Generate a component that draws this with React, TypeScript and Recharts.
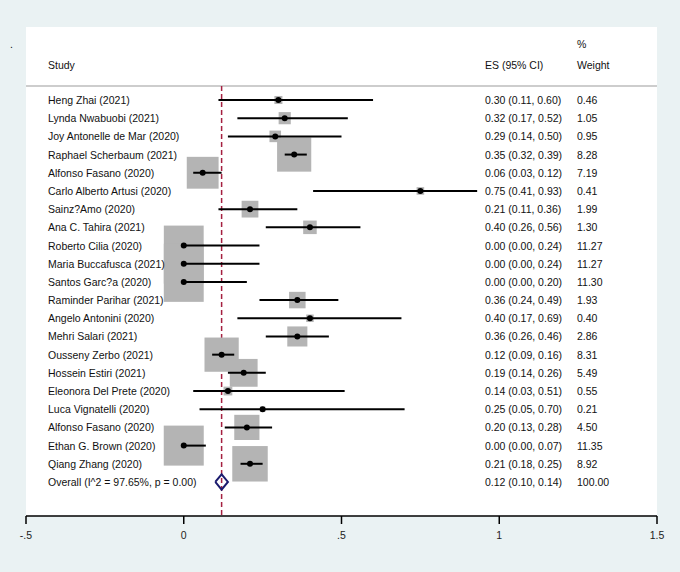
import React from 'react';
import { ComposedChart, Scatter, XAxis, YAxis, ReferenceLine, CartesianGrid, Customized } from 'recharts';

const studies = [
  'Heng Zhai (2021)',
  'Lynda Nwabuobi (2021)',
  'Joy Antonelle de Mar (2020)',
  'Raphael Scherbaum (2021)',
  'Alfonso Fasano (2020)',
  'Carlo Alberto Artusi (2020)',
  'Sainz?Amo (2020)',
  'Ana C. Tahira (2021)',
  'Roberto Cilia (2020)',
  'Maria Buccafusca (2021)',
  'Santos Garc?a (2020)',
  'Raminder Parihar (2021)',
  'Angelo Antonini (2020)',
  'Mehri Salari (2021)',
  'Ousseny Zerbo (2021)',
  'Hossein Estiri (2021)',
  'Eleonora Del Prete (2020)',
  'Luca Vignatelli (2020)',
  'Alfonso Fasano (2020)',
  'Ethan G. Brown (2020)',
  'Qiang Zhang (2020)',
];
const es = [0.30, 0.32, 0.29, 0.35, 0.06, 0.75, 0.21, 0.40, 0.00, 0.00, 0.00, 0.36, 0.40, 0.36, 0.12, 0.19, 0.14, 0.25, 0.20, 0.00, 0.21];
const ciLow = [0.11, 0.17, 0.14, 0.32, 0.03, 0.41, 0.11, 0.26, 0.00, 0.00, 0.00, 0.24, 0.17, 0.26, 0.09, 0.14, 0.03, 0.05, 0.13, 0.00, 0.18];
const ciHigh = [0.60, 0.52, 0.50, 0.39, 0.12, 0.93, 0.36, 0.56, 0.24, 0.24, 0.20, 0.49, 0.69, 0.46, 0.16, 0.26, 0.51, 0.70, 0.28, 0.07, 0.25];
const weights = [0.46, 1.05, 0.95, 8.28, 7.19, 0.41, 1.99, 1.30, 11.27, 11.27, 11.30, 1.93, 0.40, 2.86, 8.31, 5.49, 0.55, 0.21, 4.50, 11.35, 8.92];

const overallLabel = 'Overall  (I^2 = 97.65%, p = 0.00)';
const overallES = 0.12;
const overallLow = 0.10;
const overallHigh = 0.14;
const overallWeight = 100.0;

const xTicks = [-0.5, 0, 0.5, 1, 1.5];
const xTickLabels = ['-.5', '0', '.5', '1', '1.5'];

const FONT = '"Liberation Sans", Arial, Helvetica, sans-serif';
const BG = 'rgb(234,242,243)';
const BOX = '#b4b4b4';
const RED = '#a52040';
const NAVY = '#1b1b6e';

const fmt = (v: number) => v.toFixed(2);

const studyRows = studies.map((name, i) => ({
  idx: i,
  name,
  es: es[i],
  weight: weights[i],
  esText: `${fmt(es[i])} (${fmt(ciLow[i])}, ${fmt(ciHigh[i])})`,
  wText: fmt(weights[i]),
}));

const ciSegments = studies.map((_, i) => [
  { es: ciLow[i], idx: i },
  { es: ciHigh[i], idx: i },
]);

const overallIdx = studies.length;
const labelRows = [
  ...studyRows.map((r) => ({ idx: r.idx, es: r.es, name: r.name, esText: r.esText, wText: r.wText })),
  {
    idx: overallIdx,
    es: overallES,
    name: overallLabel,
    esText: `${fmt(overallES)} (${fmt(overallLow)}, ${fmt(overallHigh)})`,
    wText: fmt(overallWeight),
  },
];

const DIAMOND_H = 0.42;
const diamond = [
  { es: overallLow, idx: overallIdx },
  { es: overallES, idx: overallIdx - DIAMOND_H },
  { es: overallHigh, idx: overallIdx },
  { es: overallES, idx: overallIdx + DIAMOND_H },
  { es: overallLow, idx: overallIdx },
];

const maxW = Math.max(...weights);
const MAX_BOX = 40;

const BoxShape = (props: any) => {
  const { cx, cy, payload } = props;
  const s = MAX_BOX * Math.sqrt(payload.weight / maxW);
  return <rect x={cx - s / 2} y={cy - s / 2} width={s} height={s} fill={BOX} />;
};

const DotShape = (props: any) => {
  const { cx, cy } = props;
  return <circle cx={cx} cy={cy} r={3} fill="#000" />;
};

const NoShape = () => <g />;

const COL_STUDY = 48;
const COL_ES = 485;
const COL_W = 577;

const LabelShape = (props: any) => {
  const { cy, payload } = props;
  const st = { fontFamily: FONT, fontSize: 10.5, fill: '#111' } as any;
  return (
    <g>
      <text x={COL_STUDY} y={cy} dominantBaseline="central" style={st}>{payload.name}</text>
      <text x={COL_ES} y={cy} dominantBaseline="central" style={st}>{payload.esText}</text>
      <text x={COL_W} y={cy} dominantBaseline="central" style={st}>{payload.wText}</text>
    </g>
  );
};

const Header = () => {
  const st = { fontFamily: FONT, fontSize: 10.5, fill: '#111' } as any;
  return (
    <g>
      <text x={10} y={44} style={st} dominantBaseline="central">.</text>
      <text x={COL_STUDY} y={65} style={st} dominantBaseline="central">Study</text>
      <text x={COL_ES} y={65} style={st} dominantBaseline="central">ES (95% CI)</text>
      <text x={COL_W} y={44} style={st} dominantBaseline="central">%</text>
      <text x={COL_W} y={65} style={st} dominantBaseline="central">Weight</text>
    </g>
  );
};

const AxisTick = (props: any) => {
  const { x, y, payload } = props;
  const i = xTicks.indexOf(payload.value);
  return (
    <text x={x} y={y + 9} textAnchor="middle" dominantBaseline="central" style={{ fontFamily: FONT, fontSize: 10.5, fill: '#222' }}>
      {i >= 0 ? xTickLabels[i] : String(payload.value)}
    </text>
  );
};

const Y_MIN = -4.013;
const Y_MAX = 22.87;
const HEADER_Y = -0.77;

export default function App() {
  return (
    <div style={{ position: 'absolute', left: 0, top: 0, width: 680, height: 572, background: BG }}>
      <ComposedChart
        width={680}
        height={572}
        margin={{ top: 27, right: 23, bottom: 26, left: 26 }}
        style={{ fontFamily: FONT }}
      >
        <CartesianGrid fill="#ffffff" stroke="none" horizontal={false} vertical={false} />
        <XAxis
          type="number"
          dataKey="es"
          domain={[-0.5, 1.5]}
          ticks={xTicks}
          allowDataOverflow
          height={30}
          axisLine={{ stroke: '#000', strokeWidth: 1.5 }}
          tickLine={{ stroke: '#000', strokeWidth: 1.5 }}
          tickSize={8}
          tick={AxisTick}
        />
        <YAxis type="number" dataKey="idx" domain={[Y_MIN, Y_MAX]} reversed hide width={0} allowDataOverflow />
        <ReferenceLine y={HEADER_Y} stroke="#bdbdbd" strokeWidth={1.5} ifOverflow="visible" />
        <ReferenceLine
          segment={[{ x: overallES, y: HEADER_Y }, { x: overallES, y: Y_MAX }]}
          stroke={RED}
          strokeWidth={1.5}
          strokeDasharray="5 3"
          ifOverflow="visible"
        />
        <Scatter data={studyRows} dataKey="idx" shape={BoxShape} isAnimationActive={false} />
        {ciSegments.map((seg, i) => (
          <Scatter
            key={`ci-${i}`}
            data={seg}
            dataKey="idx"
            line={{ stroke: '#000', strokeWidth: 2 }}
            lineType="joint"
            shape={NoShape}
            isAnimationActive={false}
          />
        ))}
        <Scatter data={studyRows} dataKey="idx" shape={DotShape} isAnimationActive={false} />
        <Scatter
          data={diamond}
          dataKey="idx"
          line={{ stroke: NAVY, strokeWidth: 2 }}
          lineType="joint"
          shape={NoShape}
          isAnimationActive={false}
        />
        <Scatter data={labelRows} dataKey="idx" shape={LabelShape} isAnimationActive={false} />
        <Customized component={Header} />
      </ComposedChart>
    </div>
  );
}
